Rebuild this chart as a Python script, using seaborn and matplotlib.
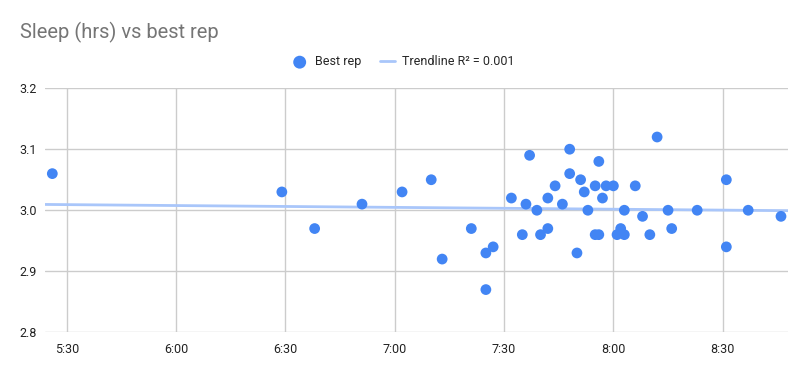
import matplotlib
matplotlib.use("Agg")
import matplotlib.pyplot as plt
import seaborn as sns
import pandas as pd
import numpy as np

# sleep time (h:mm) and best rep
sleep = ["5:26", "6:29", "6:38", "6:51", "7:02", "7:10", "7:13", "7:21", "7:25", "7:25",
         "7:27", "7:32", "7:35", "7:36", "7:37", "7:39", "7:40", "7:42", "7:42", "7:44",
         "7:46", "7:48", "7:48", "7:50", "7:51", "7:52", "7:53", "7:55", "7:55", "7:56",
         "7:56", "7:57", "7:58", "8:00", "8:01", "8:02", "8:03", "8:03", "8:06", "8:08",
         "8:10", "8:12", "8:15", "8:16", "8:23", "8:31", "8:31", "8:37", "8:46"]
best_rep = [3.06, 3.03, 2.97, 3.01, 3.03, 3.05, 2.92, 2.97, 2.93, 2.87,
            2.94, 3.02, 2.96, 3.01, 3.09, 3.00, 2.96, 2.97, 3.02, 3.04,
            3.01, 3.10, 3.06, 2.93, 3.05, 3.03, 3.00, 3.04, 2.96, 2.96,
            3.08, 3.02, 3.04, 3.04, 2.96, 2.97, 2.96, 3.00, 3.04, 2.99,
            2.96, 3.12, 3.00, 2.97, 3.00, 3.05, 2.94, 3.00, 2.99]
x_ticks = ["5:30", "6:00", "6:30", "7:00", "7:30", "8:00", "8:30"]
y_ticks = [2.8, 2.9, 3.0, 3.1, 3.2]
x_range = ["5:24", "8:48"]


def to_min(s):
    h, m = s.split(":")
    return int(h) * 60 + int(m)


df = pd.DataFrame({"sleep": [to_min(s) for s in sleep], "best_rep": best_rep})

sns.set_style("white")
plt.rcParams["font.family"] = ["Roboto", "DejaVu Sans"]

fig = plt.figure(figsize=(8.07, 3.71), dpi=100)
ax = fig.add_axes([0.0558, 0.1043, 0.921, 0.658])

blue = "#4285F4"

# trendline (linear fit) over the full x range
xlo, xhi = to_min(x_range[0]), to_min(x_range[1])
slope, icpt = np.polyfit(df["sleep"], df["best_rep"], 1)
xs = np.array([xlo, xhi])
ax.plot(xs, slope * xs + icpt, color="#a9c6fa", lw=2, zorder=2,
        label="Trendline R\u00b2 = 0.001")

sns.scatterplot(data=df, x="sleep", y="best_rep", color=blue, s=60,
                edgecolor="none", ax=ax, zorder=3, label="Best rep")

ax.set_xlim(xlo, xhi)
ax.set_ylim(2.8, 3.2)
ax.set_xticks([to_min(t) for t in x_ticks])
ax.set_xticklabels(x_ticks)
ax.set_yticks(y_ticks)
ax.set_yticklabels([f"{v:.1f}" for v in y_ticks])
ax.grid(True, color="#cccccc", lw=1)
ax.set_axisbelow(True)
for sp in ax.spines.values():
    sp.set_visible(False)
ax.tick_params(axis="both", length=0, labelsize=9, colors="#222222")
ax.tick_params(axis="x", pad=8)
ax.tick_params(axis="y", pad=6)
ax.set_xlabel("")
ax.set_ylabel("")

handles, labels = ax.get_legend_handles_labels()
ax.get_legend().remove()
order = [labels.index("Best rep"), labels.index("Trendline R\u00b2 = 0.001")]
fig.legend([handles[i] for i in order], [labels[i] for i in order],
           loc="center", bbox_to_anchor=(0.5, 0.833), ncol=2, frameon=False,
           fontsize=9, handlelength=1.2, columnspacing=1.5, handletextpad=0.6,
           markerscale=1.2)

fig.text(0.025, 0.913, "Sleep (hrs) vs best rep", fontsize=14.5, color="#757575",
         ha="left", va="center")

fig.savefig("out.png", dpi=100)
